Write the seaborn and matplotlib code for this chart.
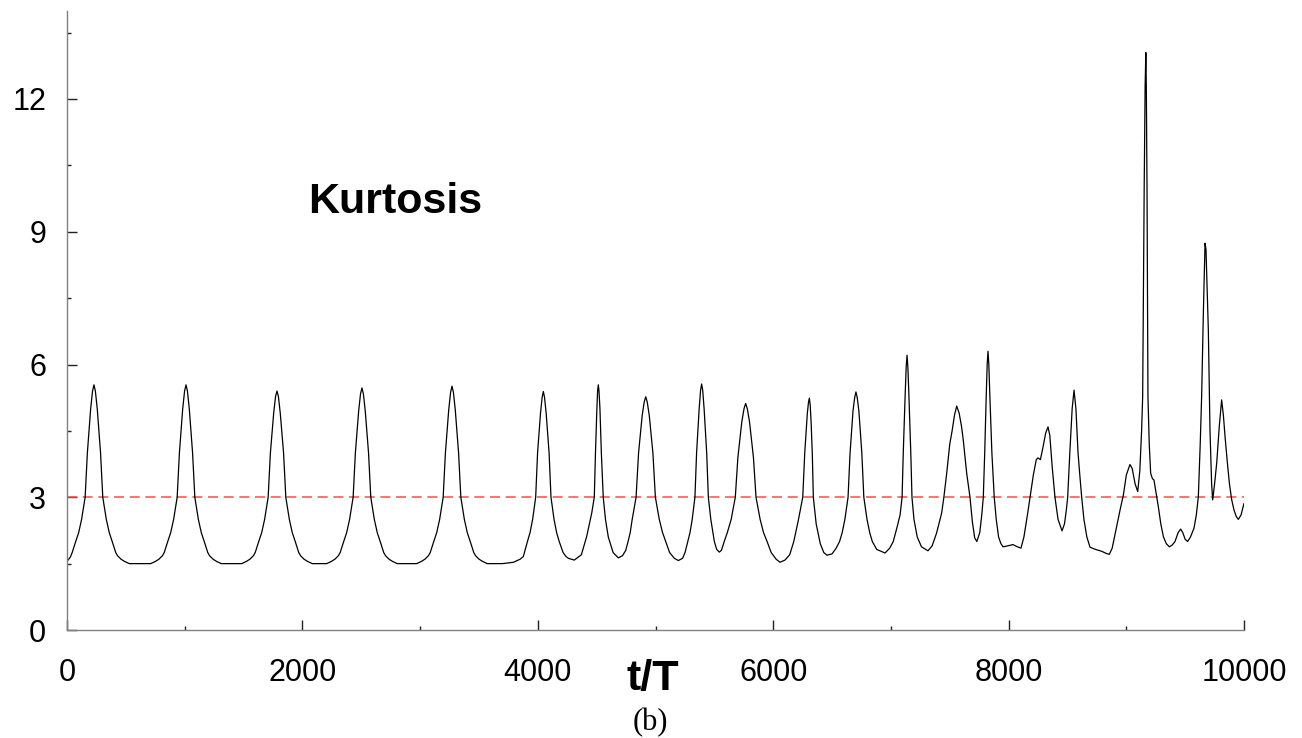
import seaborn as sns
import matplotlib.pyplot as plt
import pandas as pd
from matplotlib.ticker import MultipleLocator

# Kurtosis time series (t/T, kurtosis)
t_over_T = [
    0, 29, 44, 74, 99, 124, 154, 173, 201, 217, 229, 241, 257, 285, 304, 334, 359, 384, 414, 429, 459, 489, 529,
    711, 751, 781, 811, 826, 856, 881, 906, 936, 955, 983, 999, 1011, 1023, 1039, 1067, 1086, 1116, 1141, 1166, 1196, 1211, 1241, 1271, 1311,
    1484, 1524, 1554, 1584, 1599, 1629, 1654, 1679, 1709, 1728, 1756, 1772, 1784, 1796, 1812, 1840, 1859, 1889, 1914, 1939, 1969, 1984, 2014, 2044, 2084,
    2206, 2246, 2276, 2306, 2321, 2351, 2376, 2401, 2431, 2450, 2478, 2494, 2506, 2518, 2534, 2562, 2581, 2611, 2636, 2661, 2691, 2706, 2736, 2766, 2806,
    2971, 3011, 3041, 3071, 3086, 3116, 3141, 3166, 3196, 3215, 3243, 3259, 3271, 3283, 3299, 3327, 3346, 3376, 3401, 3426, 3456, 3471, 3501, 3531, 3571,
    3700, 3792, 3850, 3877, 3912, 3934, 3956, 3982, 3998, 4023, 4037, 4047, 4057, 4071, 4096, 4112, 4138, 4160, 4182, 4215, 4240, 4260,
    4310, 4370, 4415, 4458, 4480, 4490, 4502, 4508, 4514, 4520, 4528, 4540, 4556, 4575, 4599, 4640,
    4684, 4720, 4747, 4767, 4785, 4802, 4835, 4856, 4887, 4904, 4917, 4930, 4947, 4978, 4999, 5032, 5060, 5087, 5120, 5160,
    5194, 5230, 5251, 5274, 5293, 5312, 5335, 5349, 5371, 5383, 5392, 5401, 5413, 5435, 5449, 5470, 5500, 5520,
    5542, 5560, 5584, 5610, 5643, 5678, 5700, 5733, 5752, 5766, 5780, 5799, 5832, 5854, 5889, 5918, 5948, 5983, 6025,
    6058, 6100, 6140, 6175, 6215, 6251, 6268, 6290, 6300, 6307, 6314, 6322, 6332, 6341, 6365, 6400, 6430,
    6457, 6500, 6535, 6564, 6586, 6609, 6636, 6653, 6678, 6692, 6703, 6714, 6728, 6753, 6770, 6797, 6820, 6842, 6880,
    6950, 6990, 7020, 7050, 7078, 7095, 7105, 7121, 7130, 7137, 7144, 7153, 7169, 7179, 7196, 7224, 7260,
    7315, 7350, 7388, 7431, 7450, 7474, 7500, 7520, 7540, 7559, 7580, 7600, 7615, 7644, 7672, 7692, 7712,
    7730, 7755, 7772, 7785, 7797, 7810, 7818, 7825, 7832, 7842, 7858, 7878, 7895, 7915, 7935, 7953,
    7990, 8037, 8075, 8105,
    8130, 8160, 8182, 8210, 8235, 8250, 8270, 8290, 8315, 8335, 8350, 8370, 8394, 8420, 8454,
    8475, 8490, 8502, 8520, 8540, 8556, 8572, 8590, 8605, 8621, 8640, 8665, 8692, 8740, 8790, 8830, 8856,
    8880, 8918, 8950, 8975, 9000, 9031, 9050, 9075, 9097, 9115, 9130, 9139, 9145, 9152, 9160, 9166,
    9170, 9176, 9180, 9184, 9195, 9207, 9222, 9235, 9250, 9272, 9293, 9315, 9340, 9366, 9390, 9414,
    9440, 9462, 9480, 9500, 9521, 9545, 9575, 9595, 9612, 9628, 9640, 9655, 9669, 9677, 9690, 9697,
    9711, 9725, 9734, 9750, 9768, 9790, 9810, 9825, 9839, 9858, 9876, 9895, 9915, 9935, 9952, 9975, 10000,
]
kurtosis = [
    1.55, 1.65, 1.75, 2.0, 2.2, 2.5, 3.0, 4.0, 5.0, 5.4, 5.54, 5.4, 5.0, 4.0, 3.0, 2.5, 2.2, 2.0, 1.75, 1.68, 1.6, 1.55, 1.5,
    1.5, 1.55, 1.6, 1.68, 1.75, 2.0, 2.2, 2.5, 3.0, 4.0, 5.0, 5.4, 5.54, 5.4, 5.0, 4.0, 3.0, 2.5, 2.2, 2.0, 1.75, 1.68, 1.6, 1.55, 1.5,
    1.5, 1.55, 1.6, 1.68, 1.75, 2.0, 2.2, 2.5, 3.0, 4.0, 4.9, 5.28, 5.40, 5.28, 4.9, 4.0, 3.0, 2.5, 2.2, 2.0, 1.75, 1.68, 1.6, 1.55, 1.5,
    1.5, 1.55, 1.6, 1.68, 1.75, 2.0, 2.2, 2.5, 3.0, 4.0, 4.95, 5.34, 5.47, 5.34, 4.95, 4.0, 3.0, 2.5, 2.2, 2.0, 1.75, 1.68, 1.6, 1.55, 1.5,
    1.5, 1.55, 1.6, 1.68, 1.75, 2.0, 2.2, 2.5, 3.0, 4.0, 4.97, 5.37, 5.51, 5.37, 4.97, 4.0, 3.0, 2.5, 2.2, 2.0, 1.75, 1.68, 1.6, 1.55, 1.5,
    1.5, 1.53, 1.6, 1.66, 2.0, 2.2, 2.5, 3.0, 4.0, 4.9, 5.26, 5.39, 5.26, 4.9, 4.0, 3.0, 2.5, 2.2, 2.0, 1.75, 1.66, 1.62,
    1.58, 1.7, 2.11, 2.64, 3.0, 4.0, 5.0, 5.4, 5.54, 5.4, 5.0, 4.0, 3.0, 2.5, 2.1, 1.75,
    1.63, 1.68, 1.8, 2.0, 2.2, 2.5, 3.0, 4.0, 4.85, 5.15, 5.27, 5.15, 4.85, 4.0, 3.0, 2.5, 2.2, 2.0, 1.75, 1.62,
    1.57, 1.62, 1.75, 2.0, 2.2, 2.5, 3.0, 4.0, 5.0, 5.42, 5.56, 5.42, 5.0, 4.0, 3.0, 2.5, 2.0, 1.82,
    1.76, 1.8, 2.0, 2.2, 2.5, 3.0, 3.9, 4.7, 5.0, 5.12, 5.0, 4.7, 3.9, 3.0, 2.5, 2.2, 2.0, 1.75, 1.6,
    1.53, 1.58, 1.7, 2.0, 2.5, 3.0, 4.0, 4.9, 5.15, 5.24, 5.1, 4.7, 4.0, 3.0, 2.4, 1.95, 1.75,
    1.69, 1.72, 1.85, 2.0, 2.2, 2.5, 3.0, 4.0, 4.95, 5.25, 5.38, 5.25, 4.95, 4.0, 3.0, 2.5, 2.2, 2.0, 1.82,
    1.74, 1.85, 2.0, 2.3, 2.6, 3.0, 4.0, 5.3, 5.95, 6.21, 5.95, 5.3, 4.0, 3.0, 2.5, 2.1, 1.88,
    1.79, 1.9, 2.19, 2.64, 3.0, 3.54, 4.2, 4.5, 4.85, 5.06, 4.9, 4.6, 4.29, 3.54, 3.0, 2.45, 2.08,
    2.0, 2.2, 2.6, 3.0, 4.0, 5.3, 6.0, 6.30, 6.0, 5.2, 4.0, 3.0, 2.5, 2.1, 1.95, 1.88,
    1.9, 1.93, 1.88, 1.85,
    2.1, 2.6, 3.0, 3.5, 3.85, 3.89, 3.85, 4.1, 4.45, 4.59, 4.4, 3.7, 3.0, 2.5, 2.24,
    2.4, 2.7, 3.0, 4.0, 5.0, 5.42, 5.0, 4.0, 3.5, 3.0, 2.5, 2.1, 1.87, 1.82, 1.78, 1.73, 1.71,
    1.85, 2.34, 2.75, 3.05, 3.5, 3.74, 3.65, 3.3, 3.13, 3.6, 4.5, 5.27, 7.5, 10.0, 12.3, 13.05,
    12.3, 10.0, 7.5, 5.27, 4.2, 3.54, 3.42, 3.39, 3.15, 2.79, 2.4, 2.11, 1.95, 1.88, 1.92, 2.0,
    2.2, 2.28, 2.2, 2.05, 2.0, 2.1, 2.30, 2.6, 3.01, 4.2, 5.27, 7.2, 8.74, 8.6, 7.4, 6.78,
    4.52, 3.3, 2.94, 3.3, 3.77, 4.6, 5.20, 4.85, 4.37, 3.8, 3.31, 2.95, 2.71, 2.56, 2.50, 2.6, 2.86,
]
gaussian_level = 3.0

x_major = [0, 2000, 4000, 6000, 8000, 10000]
y_major = [0, 3, 6, 9, 12]

df = pd.DataFrame({"t": t_over_T, "k": kurtosis})

sns.set_style("ticks")
plt.rcParams['font.family'] = ['Liberation Sans', 'DejaVu Sans']
plt.rcParams['text.color'] = 'black'
plt.rcParams['xtick.color'] = 'black'
plt.rcParams['ytick.color'] = 'black'

fig = plt.figure(figsize=(13.02, 7.38), dpi=100)
ax = fig.add_axes([67 / 1302, 1 - 630 / 738, 1177 / 1302, 619.5 / 738])

ax.axhline(gaussian_level, color='#ff4848', linewidth=1.2, dashes=(6, 3.4), alpha=0.9)
sns.lineplot(data=df, x="t", y="k", ax=ax, color='black', linewidth=0.9,
             sort=False, estimator=None)

ax.set_xlim(0, 10000)
ax.set_ylim(0, 14)
ax.set_xticks(x_major)
ax.set_yticks(y_major)
ax.xaxis.set_minor_locator(MultipleLocator(1000))
ax.yaxis.set_minor_locator(MultipleLocator(1.5))
ax.set_xlabel("")
ax.set_ylabel("")

ax.tick_params(which='major', direction='in', length=7.5, width=1.0, color='#222222',
               labelsize=22, labelcolor='black')
ax.tick_params(which='minor', direction='in', length=3, width=1.0, color='#222222')
ax.tick_params(axis='x', which='major', pad=20)
ax.tick_params(axis='y', which='major', pad=15)

for side in ['top', 'right']:
    ax.spines[side].set_visible(False)
for side in ['left', 'bottom']:
    ax.spines[side].set_color('#808080')
    ax.spines[side].set_linewidth(1.0)

fig.text(308 / 1302, 1 - 212.7 / 738, "Kurtosis", fontsize=31, fontweight='bold',
         ha='left', va='baseline', color='black')
fig.text(653 / 1302, 1 - 690 / 738, "t/T", fontsize=31, fontweight='bold',
         ha='center', va='baseline', color='black')
fig.text(650.5 / 1302, 1 - 730 / 738, "(b)", fontsize=22, family='Liberation Serif',
         ha='center', va='baseline', color='black')

fig.savefig("out.png", dpi=100)
